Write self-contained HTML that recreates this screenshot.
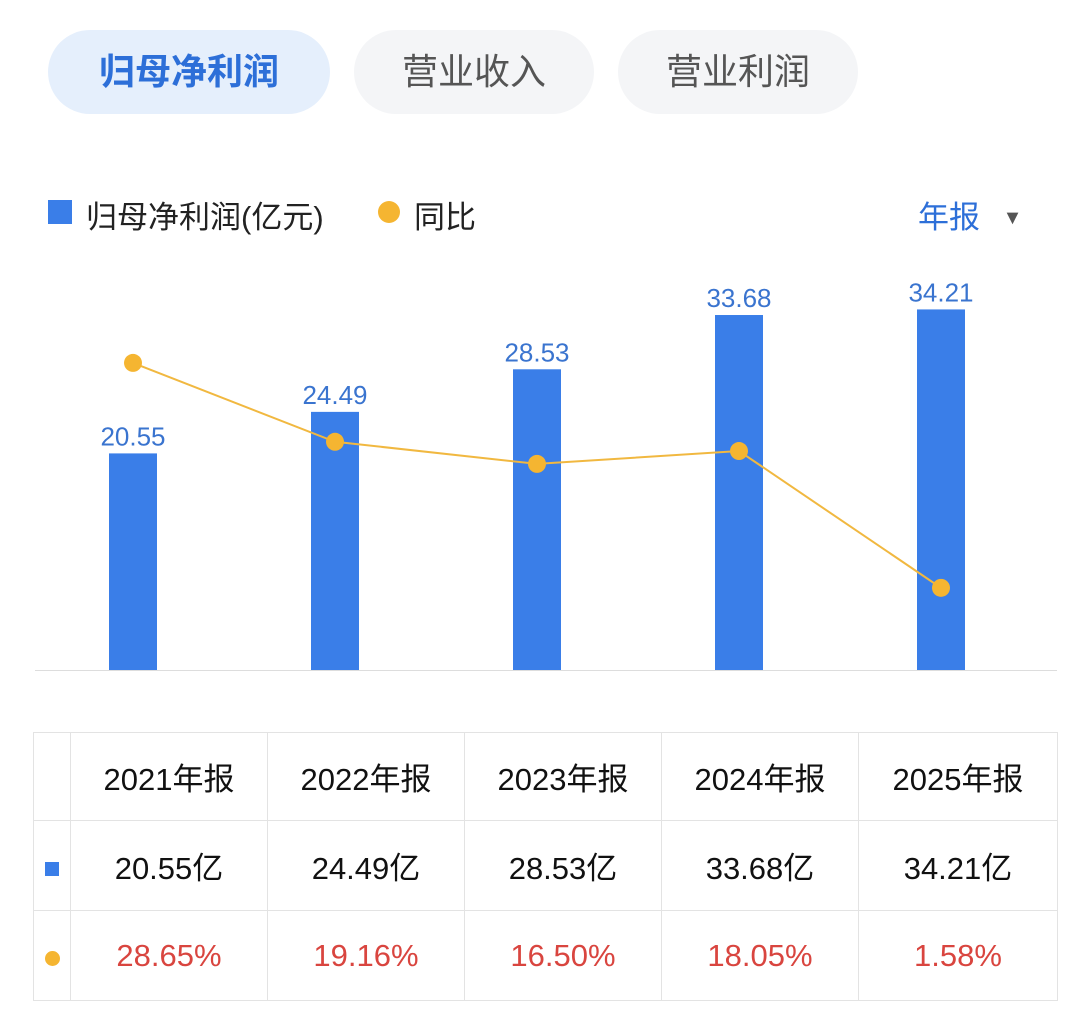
<!DOCTYPE html>
<html><head><meta charset="utf-8"><style>
body{margin:0;width:1080px;height:1016px;background:#fff;font-family:"Liberation Sans","Noto Sans CJK SC",sans-serif;position:relative;overflow:hidden}
.tab{position:absolute;top:30px;height:84px;border-radius:42px;background:#f4f5f7;color:#555;font-size:36px;line-height:84px;text-align:center}
.tab.on{background:#e5effc;color:#2d6fd8;font-weight:bold}
table{position:absolute;left:33px;top:732px;border-collapse:collapse;font-size:31px;color:#111}
td{border:1px solid #e3e3e3;text-align:center;padding:0}
.r{color:#d9453f}
</style></head><body>
<div class="tab on" style="left:48px;width:282px">归母净利润</div>
<div class="tab" style="left:354px;width:240px">营业收入</div>
<div class="tab" style="left:618px;width:240px">营业利润</div>
<div style="position:absolute;left:48px;top:200px;width:24px;height:24px;background:#3a7ee8"></div>
<div style="position:absolute;left:86px;top:192px;font-size:31px;color:#222">归母净利润(亿元)</div>
<div style="position:absolute;left:378px;top:201px;width:22px;height:22px;border-radius:50%;background:#f5b531"></div>
<div style="position:absolute;left:414px;top:192px;font-size:31px;color:#222">同比</div>
<div style="position:absolute;left:918px;top:192px;font-size:31px;color:#2d6fd8">年报 <span style="color:#555;font-size:20px;margin-left:14px;vertical-align:4px">▼</span></div>
<svg id="chart" width="1080" height="720" style="position:absolute;left:0;top:0"></svg>
<table>
<tr style="height:88px"><td style="width:36px"></td><td style="width:196px">2021年报</td><td style="width:196px">2022年报</td><td style="width:196px">2023年报</td><td style="width:196px">2024年报</td><td style="width:198px">2025年报</td></tr>
<tr style="height:90px"><td><span style="display:inline-block;width:14px;height:14px;background:#3a7ee8"></span></td><td>20.55亿</td><td>24.49亿</td><td>28.53亿</td><td>33.68亿</td><td>34.21亿</td></tr>
<tr style="height:90px" class="r"><td><span style="display:inline-block;width:15px;height:15px;border-radius:50%;background:#f5b531"></span></td><td>28.65%</td><td>19.16%</td><td>16.50%</td><td>18.05%</td><td>1.58%</td></tr>
</table>
<script>
const categories=["2021年报","2022年报","2023年报","2024年报","2025年报"];
const profit=[20.55,24.49,28.53,33.68,34.21];
const yoy=[28.65,19.16,16.50,18.05,1.58];
const NS="http://www.w3.org/2000/svg";
const svg=document.getElementById('chart');
function x(i){return 133+i*202;}
function yBar(v){return 670-v*10.54;}
function yLine(v){return 601-v*8.31;}
function mk(t,a){const e=document.createElementNS(NS,t);for(const k in a)e.setAttribute(k,a[k]);svg.appendChild(e);return e;}
const ax=mk('line',{x1:35,x2:1057,y1:670.5,y2:670.5,stroke:'#ddd','stroke-width':1});


profit.forEach((v,i)=>{
 const r=mk('rect',{x:x(i)-24,y:yBar(v),width:48,height:670-yBar(v),fill:'#3a7ee8'});
 
 
 const t=mk('text',{x:x(i),y:yBar(v)-8,'text-anchor':'middle','font-size':26,fill:'#3a74cf','font-family':'Liberation Sans, sans-serif'});
 t.textContent=v.toFixed(2);
 
 
});
const pl=mk('polyline',{points:yoy.map((v,i)=>x(i)+','+yLine(v)).join(' '),fill:'none',stroke:'#f1b840','stroke-width':2});


yoy.forEach((v,i)=>{
 const c=mk('circle',{cx:x(i),cy:yLine(v),r:9,fill:'#f5b531'});
 
 
});
</script>
</body></html>
